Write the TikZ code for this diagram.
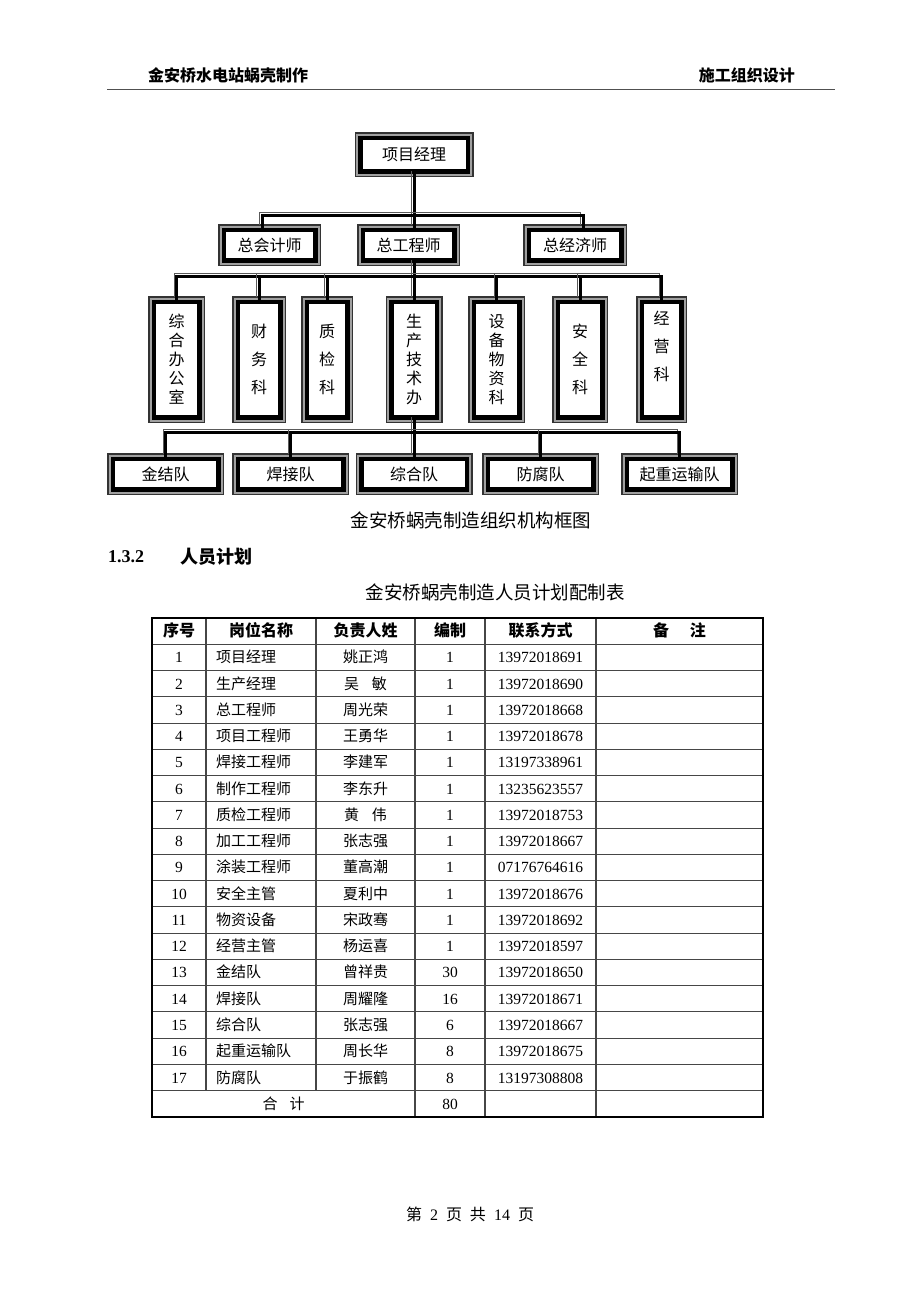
\documentclass[tikz,border=0pt]{standalone}
\usepackage{fontspec}
\setmainfont{Liberation Serif}
\newfontfamily\cjk{Noto Sans CJK SC}
\usetikzlibrary{positioning}
\definecolor{framegray}{RGB}{160,160,160}
\definecolor{shadowgray}{RGB}{90,90,90}
\definecolor{gridgray}{RGB}{70,70,70}
\definecolor{rulegray}{RGB}{80,80,80}

\begin{document}
\begin{tikzpicture}[x=1pt, y=-1pt,
  orgbox/.style={draw=black, fill=white, line width=4.5pt, inner sep=0pt,
    preaction={draw=black!80, line width=11.5pt},
    preaction={draw=framegray, line width=8.5pt},
    font=\cjk\fontsize{16}{19}\selectfont, align=center},
  wbox/.style={orgbox, minimum width=91.5pt, minimum height=30.5pt},
  tbox/.style={orgbox, minimum width=45.5pt, minimum height=115.5pt},
  sparse/.style={font=\cjk\fontsize{16}{28}\selectfont},
  conn/.style={draw=black, line width=3pt,
    preaction={draw=shadowgray, line width=1pt, transform canvas={shift={(-2.5pt,2.5pt)}}}},
  cell/.style={inner sep=0pt, text height=12pt, text depth=1pt, font=\fontsize{15.5}{18}\selectfont},
  zcell/.style={cell, font=\cjk\fontsize{15}{18}\selectfont},
  hcell/.style={cell, font=\cjk\bfseries\fontsize{16}{18}\selectfont},
  grid/.style={draw=gridgray, line width=1.1pt}
]
\useasboundingbox[fill=white] (0,0) rectangle (920,1302);
% Page header
\node[font=\cjk\bfseries\fontsize{16}{18}\selectfont, anchor=west, inner sep=0pt] (headl) at (148,75) {金安桥水电站蜗壳制作};
\node[font=\cjk\bfseries\fontsize{16}{18}\selectfont, anchor=east, inner sep=0pt] (headr) at (795,75) {施工组织设计};
\draw[rulegray, line width=1.6pt] (107,89.5) -- (835,89.5);
% Project manager
\node[orgbox, minimum width=107.5pt, minimum height=33.5pt] (pm) at (414,154.5) {项目经理};
% Chief level
\node[wbox] (ca) at (269.5,245) {总会计师};
\node[wbox] (ce) at (408.5,245) {总工程师};
\node[wbox, minimum width=92.5pt] (ee) at (575,245) {总经济师};
% Departments
\node[tbox] (k1) at (176.5,359.5) {综\\合\\办\\公\\室};
\node[tbox, sparse, minimum width=42.5pt] (k2) at (259,359.5) {财\\务\\科};
\node[tbox, sparse, minimum width=40.5pt] (k3) at (327,359.5) {质\\检\\科};
\node[tbox] (k4) at (414,359.5) {生\\产\\技\\术\\办};
\node[tbox] (k5) at (496.5,359.5) {设\\备\\物\\资\\科};
\node[tbox, sparse, minimum width=44.5pt] (k6) at (580,359.5) {安\\全\\科};
\node[tbox, sparse, minimum width=39.5pt] (k7) at (661.5,359.5) {经\\营\\科\\\mbox{}};
% Work teams
\foreach \n/\x/\t in {t1/165.5/金结队, t2/290.5/焊接队, t3/414/综合队, t4/540.5/防腐队, t5/679.5/起重运输队}
  \node[orgbox, minimum width=105.5pt, minimum height=30.5pt] (\n) at (\x,474) {\t};
% Connectors
\coordinate (bus2) at (414,215);
\coordinate (bus3) at (414,276);
\coordinate (bus4) at (414,432);
\draw[conn] (pm.south) -- (pm.south |- ce.north);
\draw[conn] ([xshift=-7.5pt]ca.north) |- (bus2) -| ([xshift=8pt]ee.north);
\draw[conn] (ce.south -| pm.south) -- (k4.north);
\draw[conn] (k1.north) |- (bus3) -| (k7.north);
\foreach \k in {k2,k3,k5,k6} \draw[conn] (\k.north |- bus3) -- (\k.north);
\draw[conn] (k4.south) -- (t3.north);
\draw[conn] (t1.north) |- (bus4) -| (t5.north);
\foreach \k in {t2,t4} \draw[conn] (\k.north |- bus4) -- (\k.north);
% Captions
\node[font=\cjk\fontsize{18.5}{20}\selectfont] (cap) at (471,520) {金安桥蜗壳制造组织机构框图};
\node[font=\bfseries\fontsize{18}{20}\selectfont, anchor=west, inner sep=0pt] (secnum) at (108,557) {1.3.2};
\node[font=\cjk\bfseries\fontsize{18}{20}\selectfont, anchor=west, inner sep=0pt] (sectitle) at (180,557) {人员计划};
\node[font=\cjk\fontsize{18.5}{20}\selectfont] (ttl) at (495,592) {金安桥蜗壳制造人员计划配制表};
% Table grid
\foreach \i in {0,...,19}
  \draw[grid] (152,618+26.26*\i) -- (763,618+26.26*\i);
\foreach \x in {206,316} \draw[grid] (\x,618) -- (\x,1090.7);
\foreach \x in {415,485,596} \draw[grid] (\x,618) -- (\x,1117);
\draw[line width=1.8pt] (152,618) rectangle (763,1117);
% Table head
\foreach \n/\x/\t in {h1/179/序号, h2/261/岗位名称, h3/365.5/负责人姓, h4/450/编制, h5/540.5/联系方式, h6/679.5/{备\hspace{1.3em}注}}
  \node[hcell] (\n) at (\x,631.1) {\t};
% Table rows
\foreach \n/\post/\who/\num/\tel [count=\i] in {
  1/项目经理/姚正鸿/1/13972018691,
  2/生产经理/{吴\hspace{0.85em}敏}/1/13972018690,
  3/总工程师/周光荣/1/13972018668,
  4/项目工程师/王勇华/1/13972018678,
  5/焊接工程师/李建军/1/13197338961,
  6/制作工程师/李东升/1/13235623557,
  7/质检工程师/{黄\hspace{0.85em}伟}/1/13972018753,
  8/加工工程师/张志强/1/13972018667,
  9/涂装工程师/董高潮/1/07176764616,
  10/安全主管/夏利中/1/13972018676,
  11/物资设备/宋政骞/1/13972018692,
  12/经营主管/杨运喜/1/13972018597,
  13/金结队/曾祥贵/30/13972018650,
  14/焊接队/周耀隆/16/13972018671,
  15/综合队/张志强/6/13972018667,
  16/起重运输队/周长华/8/13972018675,
  17/防腐队/于振鹤/8/13197308808}
{
  \node[cell] (no\i) at (179,631.1+26.26*\i) {\n};
  \node[zcell, anchor=west] (post\i) at (216,631.1+26.26*\i) {\post};
  \node[zcell] (who\i) at (365.5,631.1+26.26*\i) {\who};
  \node[cell] (num\i) at (450,631.1+26.26*\i) {\num};
  \node[cell] (tel\i) at (540.5,631.1+26.26*\i) {\tel};
}
\node[zcell] (sum) at (283.5,1103.8) {合\hspace{0.8em}计};
\node[cell] (sumnum) at (450,1103.8) {80};
% Page footer
\node[font=\fontsize{16}{18}\selectfont] (foot) at (470,1214) {{\cjk 第}\hspace{0.5em}2\hspace{0.5em}{\cjk 页}\hspace{0.5em}{\cjk 共}\hspace{0.5em}14\hspace{0.5em}{\cjk 页}};
\end{tikzpicture}
\end{document}
